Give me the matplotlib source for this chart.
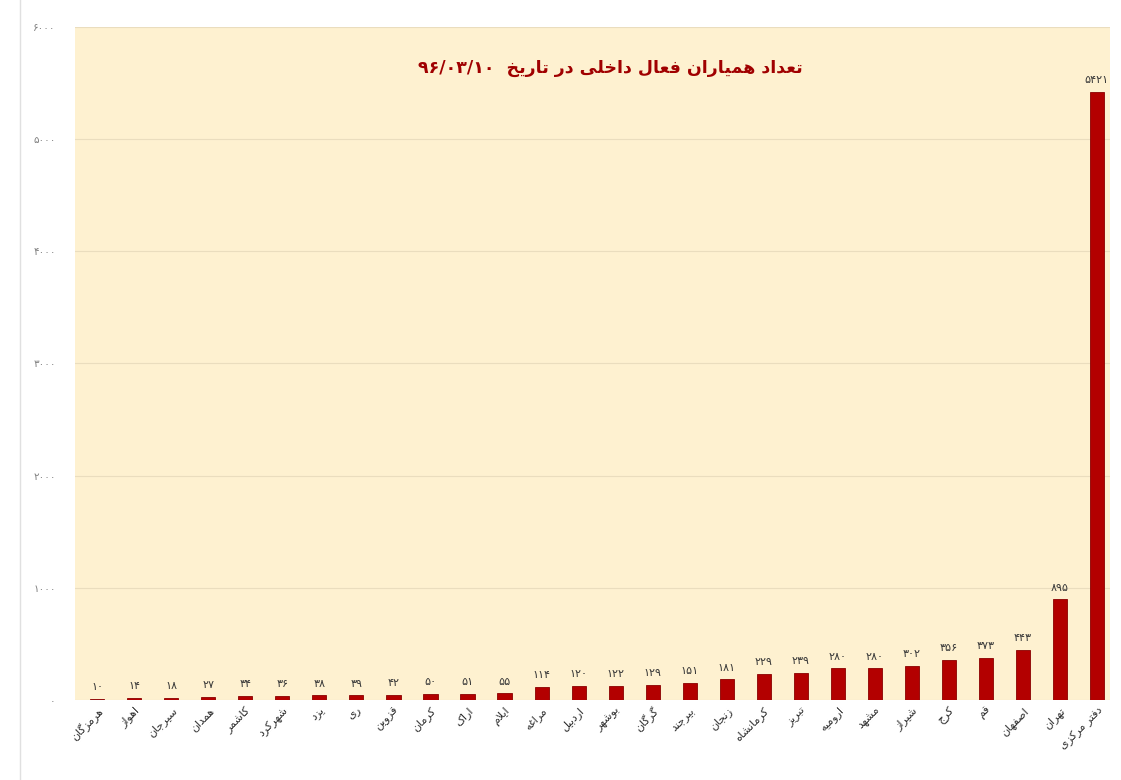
import matplotlib
matplotlib.use("Agg")
import matplotlib.pyplot as plt

plt.rcParams['font.family'] = ['DejaVu Sans']

# ---------------- data ----------------
categories = ['هرمزگان', 'اهواز', 'سیرجان', 'همدان', 'کاشمر', 'شهرکرد', 'یزد', 'ری',
              'قزوین', 'کرمان', 'اراک', 'ایلام', 'مراغه', 'اردبیل', 'بوشهر', 'گرگان',
              'بیرجند', 'زنجان', 'کرمانشاه', 'تبریز', 'ارومیه', 'مشهد', 'شیراز', 'کرج',
              'قم', 'اصفهان', 'تهران', 'دفتر مرکزی']
values = [10, 14, 18, 27, 34, 36, 38, 39, 42, 50, 51, 55, 114, 120, 122, 129,
          151, 181, 229, 239, 280, 280, 302, 356, 373, 443, 895, 5421]
y_ticks = [0, 1000, 2000, 3000, 4000, 5000, 6000]
title_text = 'تعداد همیاران فعال داخلی در تاریخ'
title_date = '۹۶/۰۳/۱۰'

# ---------------- minimal Arabic/Persian shaping ----------------
DUAL = {'ب': 0xFE8F, 'ت': 0xFE95, 'ث': 0xFE99, 'ج': 0xFE9D, 'ح': 0xFEA1, 'خ': 0xFEA5,
        'س': 0xFEB1, 'ش': 0xFEB5, 'ص': 0xFEB9, 'ض': 0xFEBD, 'ط': 0xFEC1, 'ظ': 0xFEC5,
        'ع': 0xFEC9, 'غ': 0xFECD, 'ف': 0xFED1, 'ق': 0xFED5, 'ك': 0xFED9, 'ل': 0xFEDD,
        'م': 0xFEE1, 'ن': 0xFEE5, 'ه': 0xFEE9, 'ي': 0xFEF1, 'ئ': 0xFE89,
        'پ': 0xFB56, 'چ': 0xFB7A, 'ک': 0xFB8E, 'گ': 0xFB92, 'ی': 0xFBFC}
RIGHT = {'ا': 0xFE8D, 'آ': 0xFE81, 'أ': 0xFE83, 'إ': 0xFE87, 'ؤ': 0xFE85, 'د': 0xFEA9,
         'ذ': 0xFEAB, 'ر': 0xFEAD, 'ز': 0xFEAF, 'و': 0xFEED, 'ة': 0xFE93, 'ژ': 0xFB8A}


def _joins(c):
    return c in DUAL or c in RIGHT


def shape_word(s):
    chars = [c for c in s if c != '\u200c']
    out = []
    i = 0
    n = len(chars)
    while i < n:
        c = chars[i]
        prev = chars[i - 1] if i > 0 else None
        nxt = chars[i + 1] if i + 1 < n else None
        con_prev = prev is not None and prev in DUAL and _joins(c)
        if c == 'ل' and nxt in ('ا', 'آ'):
            base = 0xFEFB if nxt == 'ا' else 0xFEF5
            out.append(chr(base + (1 if con_prev else 0)))
            i += 2
            continue
        if c in DUAL:
            con_next = nxt is not None and _joins(nxt)
            base = DUAL[c]
            if con_prev and con_next:
                out.append(chr(base + 3))
            elif con_prev:
                out.append(chr(base + 1))
            elif con_next:
                out.append(chr(base + 2))
            else:
                out.append(chr(base))
        elif c in RIGHT:
            out.append(chr(RIGHT[c] + (1 if con_prev else 0)))
        else:
            out.append(c)
        i += 1
    return out


def rtl(s):
    lines = s.split('\n')
    res = []
    for line in lines:
        res.append(''.join(reversed(shape_word(line))))
    return '\n'.join(res)


def fa_digits(v):
    return str(v).translate(str.maketrans('0123456789', '۰۱۲۳۴۵۶۷۸۹'))


# ---------------- figure ----------------
fig = plt.figure(figsize=(11.21, 7.80), dpi=100)
fig.patch.set_facecolor('white')
ax = fig.add_axes([0.067, 0.103, 0.923, 0.862])
ax.set_facecolor('#FEF1D0')

x = list(range(len(categories)))
ax.bar(x, values, width=0.38, color='#B30000', edgecolor='#8A0000', linewidth=0.6, zorder=3)

for xi, v in zip(x, values):
    ax.text(xi, v + 60, fa_digits(v), ha='center', va='bottom', fontsize=8,
            color='#383838', zorder=4)

ax.set_xlim(-0.6, 27.35)
ax.set_ylim(0, 6000)
ax.set_yticks(y_ticks)
ax.set_yticklabels([fa_digits(t) for t in y_ticks], fontsize=7.5, color='#808080')
ax.tick_params(axis='y', length=0, pad=14)
ax.tick_params(axis='x', length=0, pad=4)
ax.set_xticks(x)
ax.set_xticklabels([rtl(c) for c in categories], rotation=45, ha='right',
                   rotation_mode='anchor', fontsize=8, color='#303030')
ax.grid(axis='y', color='#EADDBE', linewidth=0.8, zorder=0)
for sp in ax.spines.values():
    sp.set_visible(False)

ax.text(0.517, 0.94, title_date + '  ' + rtl(title_text), transform=ax.transAxes,
        ha='center', va='center', fontsize=12.5, fontweight='bold', color='#A00000')

fig.add_artist(plt.Line2D([0.018, 0.018], [0.0, 1.0], color='#E0E0E0', linewidth=1.0))

fig.savefig('out.png', dpi=100, facecolor='white')
